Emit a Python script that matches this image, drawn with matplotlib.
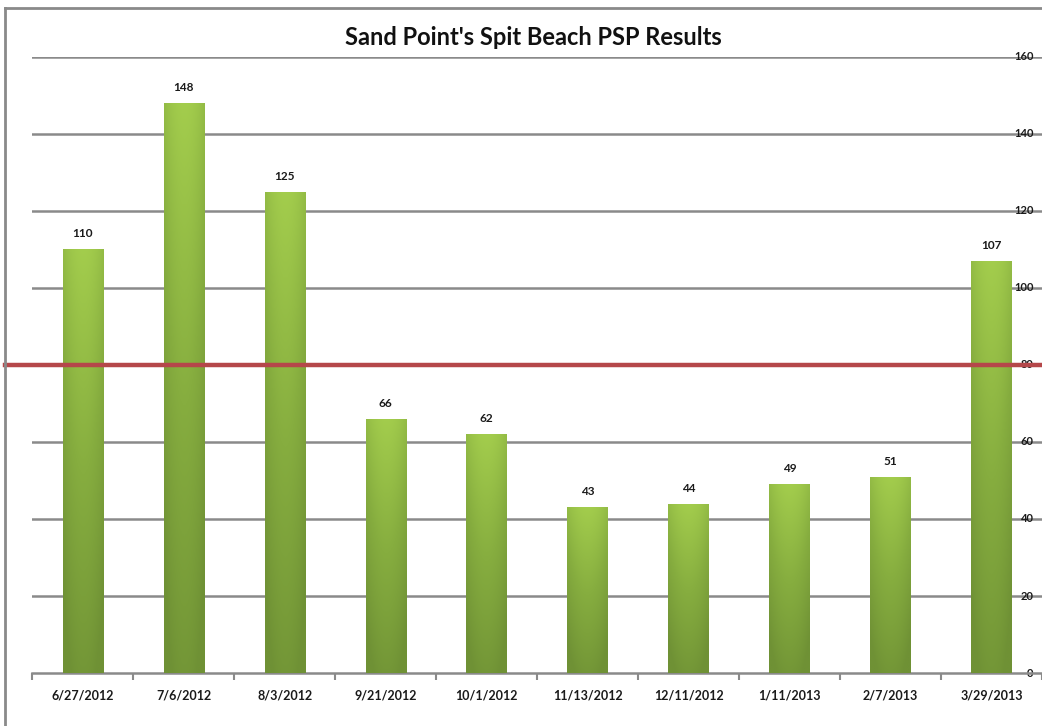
import numpy as np
import matplotlib.pyplot as plt
from matplotlib.lines import Line2D
import matplotlib.transforms as mtransforms
from matplotlib.colors import LinearSegmentedColormap

dates = ["6/27/2012", "7/6/2012", "8/3/2012", "9/21/2012", "10/1/2012",
         "11/13/2012", "12/11/2012", "1/11/2013", "2/7/2013", "3/29/2013"]
psp = [110, 148, 125, 66, 62, 43, 44, 49, 51, 107]
y_ticks = [0, 20, 40, 60, 80, 100, 120, 140, 160]
limit = 80

plt.rcParams["font.family"] = ["Lato", "DejaVu Sans"]

fig = plt.figure(figsize=(10.42, 7.26), dpi=100)
ax = fig.add_axes([0.031, 0.073, 0.969, 0.8485])

x = np.arange(len(dates))
bars = ax.bar(x, psp, width=0.4, color="#8db843", zorder=3)

# gradient fill: light at top, darker at bottom and edges
cmap = LinearSegmentedColormap.from_list("grn", ["#6f9135", "#86ad3f", "#a6d04e"])
gy = np.linspace(0, 1, 200)[:, None]
gx = np.linspace(-1, 1, 60)[None, :]
grad = gy * 0.85 - 0.25 * gx ** 2 + 0.1
for b in bars:
    im = ax.imshow(grad, cmap=cmap, vmin=0, vmax=1, origin="lower", aspect="auto",
                   extent=[b.get_x(), b.get_x() + b.get_width(), 0, b.get_height()],
                   zorder=3.5, interpolation="bilinear")
    im.set_clip_path(b)
    ax.text(b.get_x() + b.get_width() / 2, b.get_height() + 2.6, str(int(b.get_height())),
            ha="center", va="bottom", fontsize=8.5, fontweight="bold", color="#1a1a1a",
            zorder=5)

ax.set_xlim(-0.5, len(dates) - 0.5)
ax.set_ylim(0, 160)

# gridlines
for t in y_ticks[1:]:
    ax.axhline(t, color="#8a8a8a", lw=1.8, zorder=1)

# limit line, reaching past the plot area
trans = mtransforms.blended_transform_factory(ax.transAxes, ax.transData)
ax.add_line(Line2D([-0.027, 1.01], [limit, limit], transform=trans, color="#b5474a",
                   lw=3.2, zorder=4, clip_on=False))

for s in ["top", "left", "right"]:
    ax.spines[s].set_visible(False)
ax.spines["bottom"].set_color("#8a8a8a")
ax.spines["bottom"].set_linewidth(1.8)

ax.set_xticks(x)
ax.set_xticklabels(dates, fontsize=9, fontweight="bold", color="#1a1a1a")
ax.set_xticks(np.arange(-0.5, len(dates), 1), minor=True)
ax.tick_params(axis="x", which="major", length=0, pad=12)
ax.tick_params(axis="x", which="minor", length=5, width=1.5, color="#8a8a8a")

ax.set_yticks(y_ticks)
ax.set_yticklabels([str(t) for t in y_ticks], fontsize=8, fontweight="bold", color="#1a1a1a")
ax.tick_params(axis="y", left=False, right=False, labelleft=False, labelright=True, pad=-9.5)
for lbl in ax.get_yticklabels():
    lbl.set_horizontalalignment("right")
    lbl.set_verticalalignment("center")

fig.text(0.512, 0.949, "Sand Point's Spit Beach PSP Results", ha="center", va="center",
         fontsize=17, fontweight="bold", color="#111111")

# chart border
fig.add_artist(Line2D([0.005, 0.005], [0.0, 0.989], color="#8a8a8a", lw=2))
fig.add_artist(Line2D([0.005, 1.0], [0.989, 0.989], color="#8a8a8a", lw=2))

fig.savefig("out.png", dpi=100)
